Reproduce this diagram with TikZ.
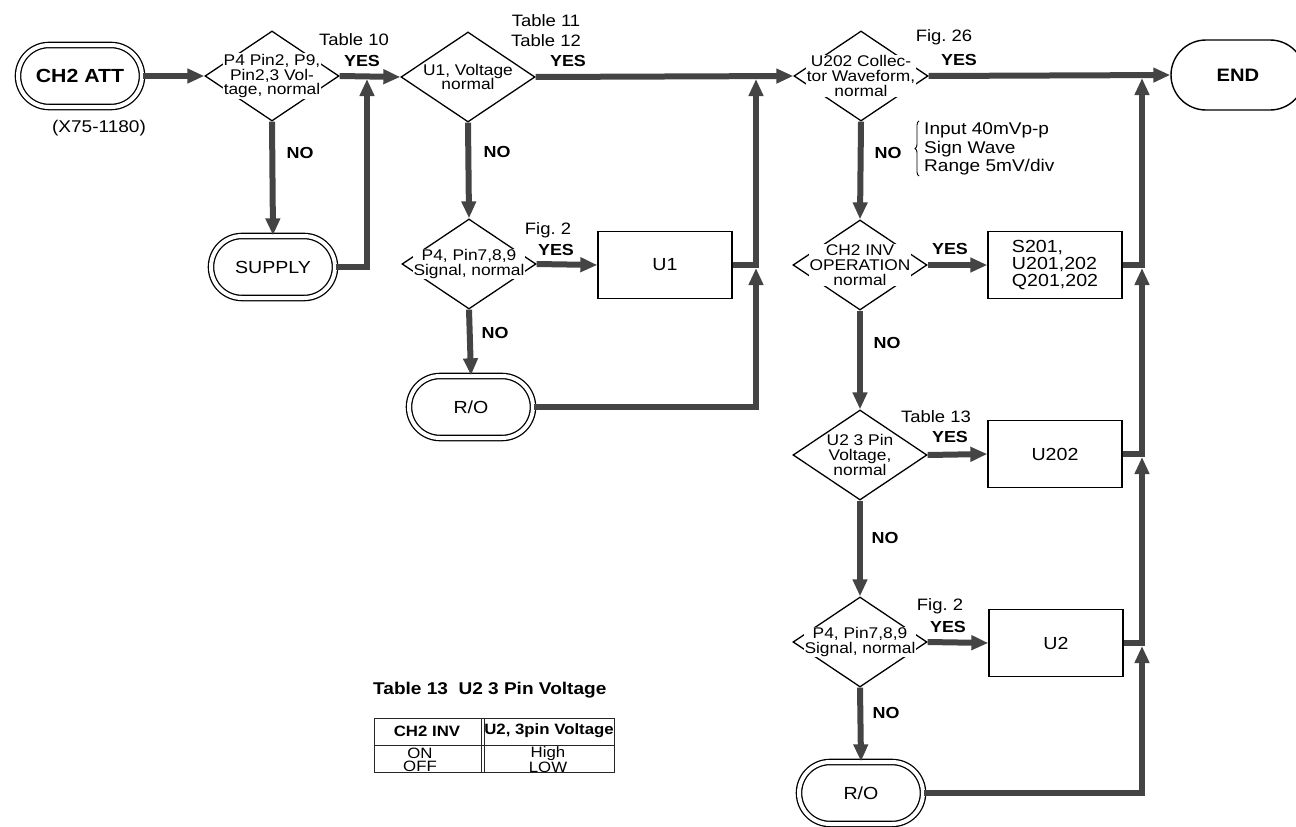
\documentclass[tikz,border=0pt]{standalone}
\usepackage{fontspec}
\setmainfont{Liberation Sans}[FakeStretch=1.12]
\usetikzlibrary{arrows.meta,shapes.geometric,shapes.misc,decorations.pathreplacing}
\definecolor{arrowgray}{RGB}{68,68,68}
\begin{document}
\begin{tikzpicture}[x=1pt,y=-1pt,
  dia/.style={diamond, draw, line width=1.3pt, minimum width=134pt, minimum height=90pt, inner sep=0pt},
  dtext/.style={fill=white, inner sep=0.6pt, align=center, font=\fontsize{15.5}{14.8}\selectfont},
  term/.style={rounded rectangle, draw, line width=1.3pt, double, double distance=4pt, minimum width=124pt, minimum height=62pt, inner sep=0pt, font=\fontsize{17.5}{20}\selectfont},
  endterm/.style={rounded rectangle, draw, line width=1.4pt, minimum width=134pt, minimum height=70pt, inner sep=0pt, font=\bfseries\fontsize{18}{20}\selectfont},
  pbox/.style={rectangle, draw, line width=1.3pt, minimum width=134pt, minimum height=67pt, inner sep=0pt, align=left, font=\fontsize{17.5}{17}\selectfont},
  flow/.style={line width=6pt, draw=arrowgray, -{Triangle[length=17pt,width=14pt]}},
  lbl/.style={font=\fontsize{16.5}{18}\selectfont, inner sep=0pt},
  yes/.style={font=\bfseries\fontsize{16}{18}\selectfont, inner sep=0pt},
  note/.style={font=\fontsize{17}{18.5}\selectfont, inner sep=0pt, align=left},
  cellh/.style={font=\bfseries\fontsize{15}{17}\selectfont, inner sep=0pt},
  celld/.style={font=\fontsize{15}{13}\selectfont, inner sep=0pt, align=center},
  tline/.style={line width=1pt, draw=black!85}
]
\useasboundingbox (0,0) rectangle (1296,827);

% ---------- nodes ----------
\node[term, font=\bfseries\fontsize{19}{20}\selectfont] (start) at (80,76) {CH2 ATT};
\node[lbl, font=\fontsize{17}{18}\selectfont] (code) at (99,128) {(X75-1180)};

\node[dia] (d1) at (272,76) {};
\node[dtext] at (d1) {P4 Pin2, P9,\\Pin2,3 Vol-\\tage, normal};
\node[term] (supply) at (273,267) {SUPPLY};

\node[dia] (d2) at (468,77) {};
\node[dtext] at (d2) {U1, Voltage\\normal};
\node[dia] (d4) at (469,264) {};
\node[dtext] at (d4) {P4, Pin7,8,9\\Signal, normal};
\node[pbox, align=center] (u1) at (665,265) {U1};
\node[term] (ro1) at (471,407) {R/O};

\node[dia] (d3) at (861,76) {};
\node[dtext] at (d3) {U202 Collec-\\tor Waveform,\\normal};
\node[endterm] (end) at (1238,75) {END};

\node[dia] (d5) at (860,265) {};
\node[dtext] at (d5) {CH2 INV\\OPERATION\\normal};
\node[pbox] (b1) at (1055,265) {S201,\\U201,202\\Q201,202};

\node[dia] (d6) at (860,455) {};
\node[dtext] at (d6) {U2 3 Pin\\Voltage,\\normal};
\node[pbox, align=center] (b2) at (1055,454) {U202};

\node[dia] (d7) at (860,642) {};
\node[dtext] at (d7) {P4, Pin7,8,9\\Signal, normal};
\node[pbox, align=center] (b3) at (1056,643) {U2};

\node[term] (ro2) at (861,793) {R/O};

% junction coordinates
\coordinate (j1) at (367,79);
\coordinate (j2) at (756,79);
\coordinate (j3) at (756,268);
\coordinate (j4) at (1142,78);
\coordinate (j5) at (1142,268);
\coordinate (j6) at (1142,457);
\coordinate (j7) at (1142,646);

% ---------- connectors ----------
\draw[flow] (start.east) -- (d1.west);
\draw[flow] (d1.east) -- (d2.west);
\draw[flow] (d1.south) -- (supply.north);
\draw[flow] (supply.east) -| (j1);

\draw[flow] (d2.east) -- (d3.west);
\draw[flow] (d2.south) -- (d4.north);
\draw[flow] (d4.east) -- (u1.west);
\draw[flow] (d4.south) -- (ro1.north);
\draw[flow] (u1.east) -| (j2);
\draw[flow] (ro1.east) -| (j3);

\draw[flow] (d3.east) -- (end.west);
\draw[flow] (d3.south) -- (d5.north);
\draw[flow] (d5.east) -- (b1.west);
\draw[flow] (b1.east) -| (j4);
\draw[flow] (d5.south) -- (d6.north);
\draw[flow] (d6.east) -- (b2.west);
\draw[flow] (b2.east) -| (j5);
\draw[flow] (d6.south) -- (d7.north);
\draw[flow] (d7.east) -- (b3.west);
\draw[flow] (b3.east) -| (j6);
\draw[flow] (d7.south) -- (ro2.north);
\draw[flow] (ro2.east) -| (j7);

% ---------- labels ----------
\node[lbl] (t10) at (354,40) {Table\ 10};
\node[yes] (y1) at (362,61) {YES};
\node[yes] (n1) at (300,153) {NO};

\node[lbl] (t11) at (546,21) {Table\ 11};
\node[lbl] (t12) at (546,41) {Table\ 12};
\node[yes] (y2) at (568,61) {YES};
\node[yes] (n2) at (497,152) {NO};

\node[lbl] (f2a) at (548,230) {Fig.\ 2};
\node[yes] (y4) at (556,250) {YES};
\node[yes] (n4) at (495,333) {NO};

\node[lbl] (f26) at (944,37) {Fig.\ 26};
\node[yes] (y3) at (959,60) {YES};
\node[yes] (n3) at (888,153) {NO};
\coordinate (brb) at (919,176);
\coordinate (brt) at (919,121);
\draw[decorate, decoration={brace, amplitude=4pt}, line width=0.9pt] (brb) -- (brt);
\node[note, anchor=west] (inp) at (924,149) {Input 40mVp-p\\Sign Wave\\Range 5mV/div};

\node[yes] (y5) at (950,249) {YES};
\node[yes] (n5) at (887,343) {NO};

\node[lbl] (t13) at (936,417) {Table\ 13};
\node[yes] (y6) at (950,437) {YES};
\node[yes] (n6) at (885,538) {NO};

\node[lbl] (f2b) at (940,606) {Fig.\ 2};
\node[yes] (y7) at (948,627) {YES};
\node[yes] (n7) at (886,713) {NO};

% ---------- table ----------
\node[font=\bfseries\fontsize{17}{20}\selectfont, anchor=west, inner sep=0pt] (ttl) at (373,690) {Table 13\ \ U2 3 Pin Voltage};
\draw[tline] (374,718) rectangle (614,772);
\draw[tline] (374,745) -- (614,745);
\draw[tline] (481,718) -- (481,772);
\draw[tline] (484.5,718) -- (484.5,772);
\node[cellh] (h1) at (427,731) {CH2 INV};
\node[cellh] (h2) at (549,731) {U2, 3pin Voltage};
\node[celld] (c1) at (420,759.5) {ON\\OFF};
\node[celld] (c2) at (548,759.5) {High\\LOW};
\end{tikzpicture}
\end{document}
